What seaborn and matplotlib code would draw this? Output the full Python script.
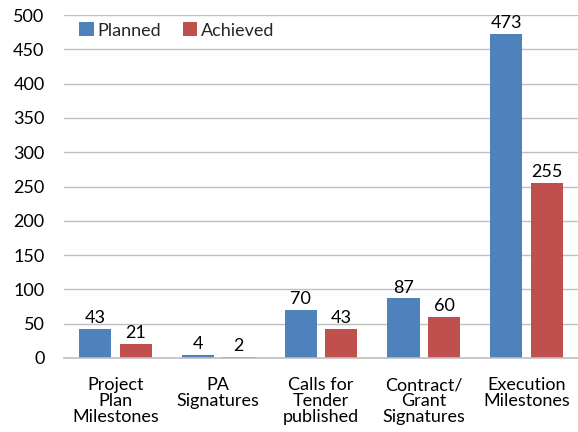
import pandas as pd
import matplotlib.pyplot as plt
import seaborn as sns

# Chart data
categories = ['Project\nPlan\nMilestones', 'PA\nSignatures', 'Calls for\nTender\npublished',
              'Contract/\nGrant\nSignatures', 'Execution\nMilestones']
planned = [43, 4, 70, 87, 473]
achieved = [21, 2, 43, 60, 255]
series_names = ['Planned', 'Achieved']
colors = ['#4F81BD', '#C0504D']

sns.set_theme(style="white")
plt.rcParams['font.family'] = ['Lato', 'DejaVu Sans']

df = pd.DataFrame({
    'Category': categories * 2,
    'Series': [series_names[0]] * len(categories) + [series_names[1]] * len(categories),
    'Value': planned + achieved,
})

fig = plt.figure(figsize=(5.78, 4.32), dpi=100)
ax = fig.add_axes([64 / 578, 1 - 358 / 432, 1 - 64 / 578, (358 - 15) / 432])

sns.barplot(data=df, x='Category', y='Value', hue='Series', palette=colors,
            width=0.79, gap=0.21, ax=ax, saturation=1, edgecolor='none')

for container in ax.containers:
    ax.bar_label(container, fontsize=13, color='black', padding=2)

ax.set_ylim(0, 500)
ax.set_yticks(range(0, 501, 50))
ax.yaxis.grid(True, color='#BFBFBF', linewidth=1)
ax.set_axisbelow(True)
ax.set_xlabel('')
ax.set_ylabel('')
ax.tick_params(axis='both', labelsize=13, colors='black', length=0)
ax.tick_params(axis='y', pad=14)
ax.tick_params(axis='x', pad=14)
for lbl in ax.get_xticklabels():
    lbl.set_linespacing(1.0)

for side in ['top', 'right', 'left']:
    ax.spines[side].set_visible(False)
ax.spines['bottom'].set_color('#BFBFBF')
ax.spines['bottom'].set_linewidth(1.2)

ax.legend(loc='upper left', bbox_to_anchor=(0.005, 1.015), frameon=False, fontsize=13,
          ncol=2, handlelength=0.8, handleheight=0.8, handletextpad=0.2,
          columnspacing=1.2, borderaxespad=0.3)

fig.savefig('out.png', dpi=100)
